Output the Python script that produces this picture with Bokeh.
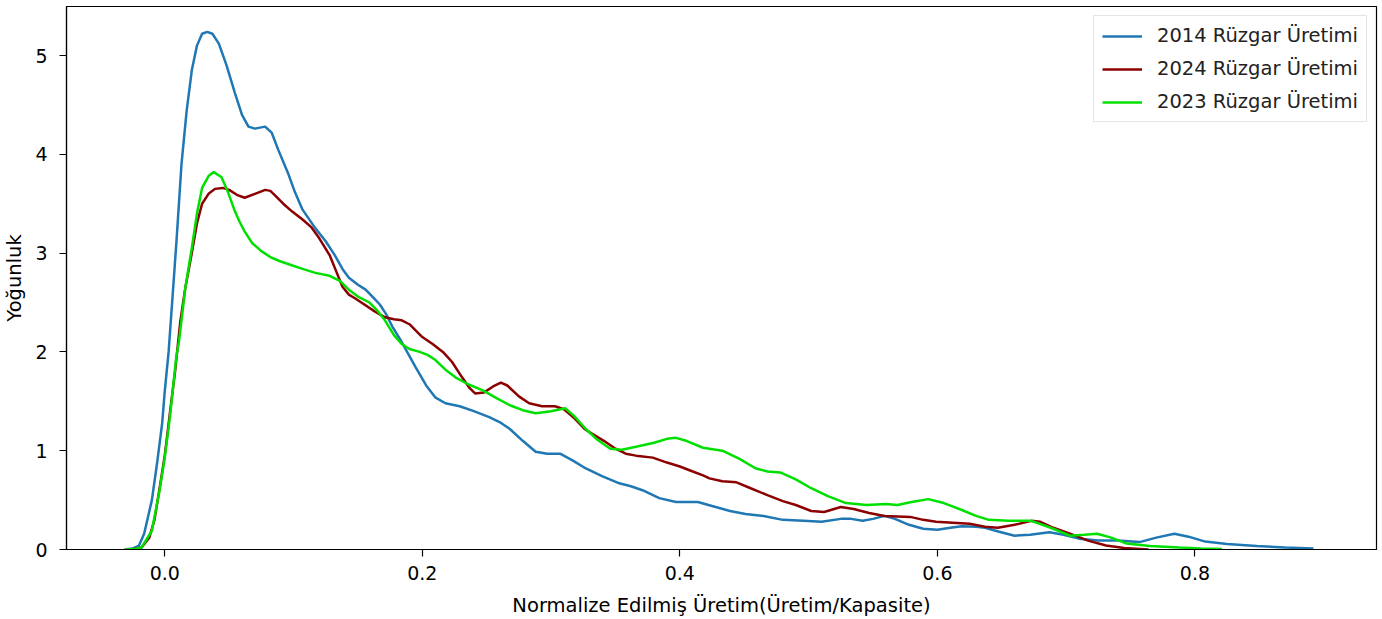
from bokeh.plotting import figure
from bokeh.models import Range1d, FixedTicker, Legend, LegendItem
from bokeh.embed import file_html
from bokeh.resources import INLINE

# ---- data ----
x_2014 = [-0.031, -0.025, -0.02, -0.016, -0.01, -0.006, -0.002, 0.0, 0.003, 0.006, 0.009, 0.013, 0.017, 0.021,
          0.025, 0.029, 0.033, 0.037, 0.042, 0.048, 0.0545, 0.06, 0.065, 0.07, 0.078, 0.083, 0.088, 0.096, 0.101,
          0.107, 0.117, 0.125, 0.132, 0.138, 0.143, 0.15, 0.156, 0.162, 0.167, 0.172, 0.177, 0.184, 0.195, 0.203,
          0.21, 0.218, 0.229, 0.24, 0.252, 0.26, 0.268, 0.278, 0.288, 0.297, 0.307, 0.317, 0.327, 0.34, 0.353,
          0.362, 0.371, 0.384, 0.397, 0.405, 0.414, 0.425, 0.439, 0.451, 0.465, 0.48, 0.496, 0.51, 0.525, 0.533,
          0.542, 0.55, 0.559, 0.567, 0.578, 0.589, 0.6, 0.61, 0.619, 0.63, 0.637, 0.648, 0.66, 0.672, 0.687, 0.698,
          0.71, 0.725, 0.74, 0.757, 0.77, 0.784, 0.795, 0.808, 0.825, 0.848, 0.87, 0.892]
y_2014 = [0.0, 0.01, 0.04, 0.16, 0.5, 0.87, 1.28, 1.6, 2.0, 2.55, 3.1, 3.9, 4.44, 4.85,
          5.1, 5.22, 5.24, 5.22, 5.12, 4.9, 4.62, 4.4, 4.28, 4.26, 4.28, 4.22, 4.05, 3.8, 3.62,
          3.44, 3.25, 3.12, 2.98, 2.84, 2.75, 2.68, 2.63, 2.55, 2.48, 2.38, 2.25, 2.1, 1.84, 1.66,
          1.54, 1.48, 1.45, 1.4, 1.34, 1.29, 1.22, 1.1, 0.99, 0.97, 0.97, 0.9, 0.82, 0.74, 0.67,
          0.64, 0.6, 0.52, 0.48, 0.48, 0.48, 0.44, 0.39, 0.36, 0.34, 0.3, 0.29, 0.28, 0.31, 0.31,
          0.29, 0.31, 0.34, 0.31, 0.25, 0.21, 0.2, 0.22, 0.235, 0.23, 0.22, 0.18, 0.14, 0.15, 0.175, 0.15,
          0.11, 0.09, 0.09, 0.075, 0.12, 0.16, 0.13, 0.08, 0.055, 0.035, 0.02, 0.01]

x_2024 = [-0.031, -0.024, -0.018, -0.012, -0.008, -0.004, 0.0, 0.004, 0.008, 0.012, 0.016, 0.021, 0.025, 0.029,
          0.034, 0.039, 0.045, 0.05, 0.056, 0.062, 0.07, 0.078, 0.082, 0.086, 0.092, 0.099, 0.107, 0.114, 0.12,
          0.128, 0.133, 0.138, 0.143, 0.148, 0.155, 0.163, 0.171, 0.178, 0.184, 0.19, 0.2, 0.208, 0.216, 0.223,
          0.231, 0.237, 0.241, 0.248, 0.255, 0.261, 0.266, 0.275, 0.283, 0.293, 0.303, 0.31, 0.318, 0.326, 0.332,
          0.341, 0.35, 0.358, 0.366, 0.379, 0.39, 0.4, 0.408, 0.418, 0.423, 0.433, 0.444, 0.455, 0.468, 0.48, 0.49,
          0.502, 0.512, 0.525, 0.535, 0.547, 0.559, 0.569, 0.579, 0.589, 0.599, 0.612, 0.625, 0.637, 0.647, 0.66,
          0.673, 0.68, 0.69, 0.703, 0.717, 0.731, 0.745, 0.764]
y_2024 = [0.0, 0.005, 0.02, 0.12, 0.3, 0.62, 0.95, 1.38, 1.8, 2.3, 2.65, 3.0, 3.3, 3.5,
          3.6, 3.65, 3.66, 3.64, 3.59, 3.56, 3.6, 3.64, 3.63, 3.58, 3.5, 3.42, 3.34, 3.26, 3.15,
          2.98, 2.82, 2.66, 2.58, 2.54, 2.48, 2.41, 2.35, 2.33, 2.32, 2.28, 2.15, 2.08, 2.0, 1.9,
          1.74, 1.63, 1.58, 1.59, 1.65, 1.69, 1.66, 1.55, 1.48, 1.45, 1.45, 1.42, 1.33, 1.22, 1.17,
          1.1, 1.02, 0.97, 0.95, 0.93, 0.88, 0.84, 0.8, 0.75, 0.72, 0.69, 0.68, 0.62, 0.55, 0.49, 0.45,
          0.39, 0.38, 0.43, 0.41, 0.37, 0.34, 0.335, 0.33, 0.3, 0.28, 0.27, 0.26, 0.23, 0.22, 0.25,
          0.29, 0.28, 0.22, 0.16, 0.09, 0.04, 0.015, 0.0]

x_2023 = [-0.031, -0.024, -0.018, -0.01, -0.004, 0.0, 0.004, 0.007, 0.009, 0.011, 0.016, 0.021, 0.025, 0.029,
          0.034, 0.038, 0.044, 0.049, 0.054, 0.058, 0.062, 0.068, 0.075, 0.082, 0.089, 0.098, 0.107, 0.117, 0.128,
          0.136, 0.143, 0.15, 0.159, 0.165, 0.171, 0.178, 0.184, 0.19, 0.198, 0.204, 0.21, 0.218, 0.226, 0.236,
          0.247, 0.258, 0.268, 0.278, 0.288, 0.3, 0.311, 0.318, 0.327, 0.336, 0.346, 0.355, 0.366, 0.38, 0.39,
          0.397, 0.405, 0.418, 0.433, 0.446, 0.459, 0.468, 0.478, 0.49, 0.502, 0.515, 0.529, 0.545, 0.56, 0.569,
          0.58, 0.593, 0.605, 0.619, 0.63, 0.64, 0.655, 0.673, 0.688, 0.703, 0.714, 0.724, 0.735, 0.747, 0.765,
          0.788, 0.805, 0.821]
y_2023 = [0.0, 0.005, 0.02, 0.19, 0.6, 0.93, 1.34, 1.71, 1.95, 2.1, 2.65, 3.05, 3.4, 3.66,
          3.78, 3.82, 3.77, 3.62, 3.44, 3.32, 3.22, 3.1, 3.02, 2.96, 2.92, 2.88, 2.84, 2.8, 2.77,
          2.72, 2.63, 2.56, 2.5, 2.42, 2.32, 2.17, 2.08, 2.03, 2.0, 1.97, 1.92, 1.82, 1.74, 1.67,
          1.61, 1.53, 1.46, 1.41, 1.38, 1.4, 1.43, 1.35, 1.22, 1.11, 1.02, 1.01, 1.04, 1.08, 1.12,
          1.13, 1.1, 1.03, 1.0, 0.92, 0.82, 0.79, 0.78, 0.71, 0.62, 0.54, 0.47, 0.45, 0.46, 0.45,
          0.48, 0.51, 0.47, 0.4, 0.34, 0.3, 0.29, 0.29, 0.22, 0.14, 0.15, 0.16, 0.12, 0.06, 0.035,
          0.02, 0.01, 0.005]

series_labels = ["2014 Rüzgar Üretimi", "2024 Rüzgar Üretimi", "2023 Rüzgar Üretimi"]
x_ticks = [0.0, 0.2, 0.4, 0.6, 0.8]
x_tick_labels = ["0.0", "0.2", "0.4", "0.6", "0.8"]
y_ticks = [0, 1, 2, 3, 4, 5]
y_tick_labels = ["0", "1", "2", "3", "4", "5"]
x_label = "Normalize Edilmiş Üretim(Üretim/Kapasite)"
y_label = "Yoğunluk"

FONT = "DejaVu Sans"
FS = "19.5px"
TICK_FS = "19px"

p = figure(width=1382, height=619, output_backend="svg", toolbar_location=None,
           x_range=Range1d(-0.0763, 0.941), y_range=Range1d(0, 5.496),
           min_border_left=65, min_border_right=6, min_border_top=6, min_border_bottom=70)
p.background_fill_color = "white"
p.border_fill_color = "white"
p.outline_line_color = "black"
p.outline_line_width = 1.2
p.grid.visible = False

r1 = p.line(x_2014, y_2014, line_color="#1f77b4", line_width=2.5)
r2 = p.line(x_2024, y_2024, line_color="#8b0000", line_width=2.5)
r3 = p.line(x_2023, y_2023, line_color="#00e000", line_width=2.5)

for ax, ticks, labels, lab in ((p.xaxis[0], x_ticks, x_tick_labels, x_label),
                               (p.yaxis[0], y_ticks, y_tick_labels, y_label)):
    ax.ticker = FixedTicker(ticks=ticks)
    ax.major_label_overrides = {t: l for t, l in zip(ticks, labels)}
    ax.minor_tick_line_color = None
    ax.major_tick_out = 7
    ax.major_tick_in = 0
    ax.major_tick_line_color = "black"
    ax.major_tick_line_width = 1.2
    ax.axis_line_color = "black"
    ax.axis_line_width = 1.2
    ax.major_label_text_font = FONT
    ax.major_label_text_font_size = TICK_FS
    ax.major_label_text_color = "black"
    ax.axis_label = lab
    ax.axis_label_text_font = FONT
    ax.axis_label_text_font_size = FS
    ax.axis_label_text_font_style = "normal"
    ax.axis_label_text_color = "black"

p.xaxis.major_label_standoff = 9
p.xaxis.axis_label_standoff = 11
p.yaxis.major_label_standoff = 12
p.yaxis.axis_label_standoff = 6

legend = Legend(items=[LegendItem(label=series_labels[0], renderers=[r1]),
                       LegendItem(label=series_labels[1], renderers=[r2]),
                       LegendItem(label=series_labels[2], renderers=[r3])],
                location="top_right")
legend.label_text_font = FONT
legend.label_text_font_size = FS
legend.label_text_color = "#222222"
legend.glyph_width = 40
legend.glyph_height = 22
legend.label_height = 22
legend.label_standoff = 15
legend.spacing = 10
legend.padding = 8
legend.margin = 9
legend.border_line_color = "#cccccc"
legend.border_line_width = 1
legend.background_fill_alpha = 0.8
p.add_layout(legend)

open("out.html", "w").write(file_html(p, INLINE))
